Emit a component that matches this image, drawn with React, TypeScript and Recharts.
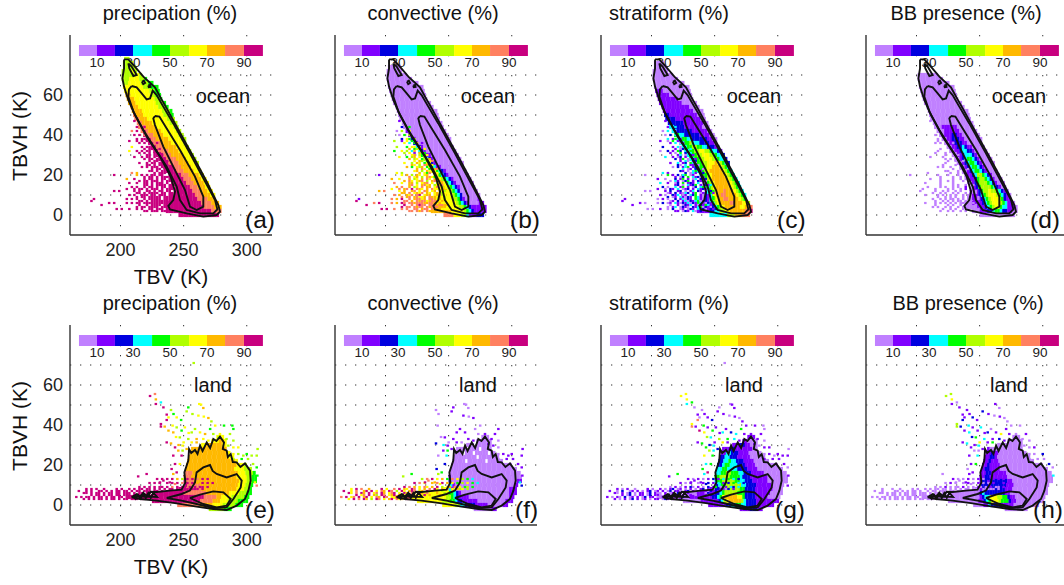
import React from "react";
import { ScatterChart, Scatter, XAxis, YAxis, CartesianGrid, ReferenceArea } from "recharts";

const palette = ["#c080ff","#8000ff","#0000e0","#00ffff","#00ff00","#b0ff00","#ffff00","#ffb900","#ff8060","#c8007f"];
const barEdges = [167.1,181.4,195.6,209.9,225,239.2,254.3,268.5,282.8,297.8,312.8];
const barLabels = ["10","30","50","70","90"];
const titles = ["precipation (%)","convective (%)","stratiform (%)","BB presence (%)"];
const letters = [["(a)","(b)","(c)","(d)"],["(e)","(f)","(g)","(h)"]];
const xTicks = [200,250,300];
const yTicks = [0,20,40,60];
const gridX = [200,250,300];
const gridY = [0,10,20,30,40,50,60,70];

const oceanY = [78,76,74,72,70,68,66,64,62,60,58,56,54,52,50,48,46,44,42,40,38,36,34,32,30,28,26,24,22,20,18,16,14,12,10,8,6,4,2,0];
const oceanL = [203,202,202,201,201,201,202,202,203,204,205,206,208,209,210,211,213,214,216,218,220,222,224,226,228,230,232,234,236,238,240,242,243,243,243,241,238,236,236,246];
const oceanR = [207,209,211,213,217,221,225,229,230,231,233,235,238,240,241,242,244,246,247,249,251,252,254,256,258,259,261,262,264,266,267,269,270,272,274,275,277,279,280,278];

const oceanA = [[5],[5],[5],[5,208,6,211,5],[5,210,6,214,5],[5,206,6,214,5,218,4],[5,206,6,216,5,222,4],[6,218,5,224,4],[6,222,5,226,4],[7,208,6,224,5,228,4],
[7,210,6,226,5,231,4],[7,211,6,228,5,233,4],[7,213,6,230,5,236,4],[7,216,6,232,5,238,4],[8,212,7,218,6,234,5,239,4],[8,214,7,221,6,237,5],[8,217,7,225,6,239,5],[8,219,7,228,6,241,5],[8,222,7,231,6,243,5],[9,219,8,225,7,234,6,246,5],
[9,222,8,228,7,237,6,248,5],[9,224,8,231,7,240,6,250,5],[9,227,8,234,7,243,6,252,5],[9,230,8,237,7,246,6,254,5],[9,233,8,240,7,249,6,256,5],[9,236,8,243,7,251,6,258,5],[9,238,8,245,7,253,6,260,5],[9,241,8,248,7,256,6],[9,244,8,250,7,258,6],[9,247,8,253,7,261,6],
[9,250,8,255,7,263,6],[9,252,8,258,7,265,6],[9,254,8,260,7,267,6],[9,256,8,263,7,269,6],[9,258,8,265,7,271,6],[9,260,8,268,7,274,6],[9,263,8,271,7],[9,266,8,274,7],[9,272,8],[9]];

const oceanB = [[],[],[0],[0],[0],[0],[0],[0],[0],[0],[0],[0],[0],[0],[0],[0],[0],[0],[1,217,0],[1,220,0],
[2,221,1,223,0],[2,224,1,226,0],[3,226,2,228,1,230,0],[3,228,2,230,1,232,0],[4,230,2,232,1,235,0],[5,232,3,234,2,236,1,238,0],[6,234,3,236,2,238,1,240,0],[5,236,4,238,3,240,1,243,0],[6,238,4,241,3,243,2,245,1,247,0],[6,241,4,244,3,246,2,248,1,250,0],
[6,243,5,246,4,248,3,250,2,252,1,254,0],[7,245,6,247,4,250,3,252,2,254,1,256,0],[7,247,6,249,5,251,4,253,3,254,2,256,1,258,0],[7,248,6,251,5,253,4,255,3,256,2,258,1,259,0],[7,248,6,252,5,254,4,256,3,258,2,260,1,261,0],[7,246,6,253,5,256,4,258,3,259,2,261,1,263,0,272,1],[7,244,6,255,5,258,4,260,3,261,2,263,1,266,0,274,1],[7,246,6,258,5,261,4,263,3,265,2,267,1],[7,252,6,262,5,264,4,266,3,268,2,270,1],[8,254,6,260,5,264,3,266,1,272,2]];

const oceanC = [[],[0],[0],[0],[0],[0],[0],[0],[1,209,0],[1,214,0],
[1,220,0],[1,224,0],[1,229,0],[1,233,0],[2,214,1,236,0],[2,218,1,239,0],[2,224,1,240,0],[3,217,2,226,1,240,0],[3,220,2,232,1,243,0],[4,222,3,226,2,238,1,245,0],
[3,224,4,228,3,232,2,243,1,248,0],[3,226,4,230,5,232,3,238,2,246,1,250,0],[3,228,4,232,5,236,4,240,3,244,2,249,1,252,0],[3,230,4,234,5,238,6,241,5,245,4,248,3,251,2,254,1],[3,232,4,236,5,240,6,246,5,249,4,252,3,255,2,257,1],[3,234,4,238,5,242,6,248,5,251,4,254,3,257,2],[3,236,4,240,5,243,6,249,7,252,6,254,5,256,4,258,3,260,2],[3,238,4,241,5,244,6,247,7,254,6,256,5,258,4,260,3,262,2],[3,239,4,242,5,244,6,246,7,256,6,258,5,260,4,262,3,264,2],[3,240,4,243,5,245,6,247,7,257,6,259,5,261,4,263,3,265,2],
[3,241,4,244,5,246,6,248,7,259,6,261,5,263,4,265,3,267,2],[3,242,4,245,5,247,6,249,7,261,6,263,5,265,4,267,3,269,2],[3,243,4,246,5,248,6,250,7,262,6,265,5,267,4,269,3,271,2],[3,244,4,246,5,248,6,250,7,256,8,258,7,264,6,267,5,269,4,271,3,273,2],[3,244,4,246,5,248,6,250,7,255,8,259,7,266,6,269,5,271,4,273,3],[2,244,3,246,4,248,5,250,6,252,7,256,8,260,7,268,6,271,5,273,4,275,3],[1,240,2,244,3,247,4,250,5,252,6,254,7,262,8,265,7,272,6,275,5,277,8],[1,246,2,249,3,251,4,253,5,255,6,257,7,270,6,274,7,277,8],[1,246,2,250,3,254,5,258,6,262,7,274,8,278,9],[3,260,5,265,7,272,8,277,9]];

const oceanD = [[],[],[],[],[0],[0],[0],[0],[0],[0],
[0],[0],[0],[0],[0],[0],[0],[0,220,1,232,0],[0,221,1,234,0],[0,222,1,227,2,232,1,236,0],
[0,224,1,228,2,234,1,238,0],[0,226,1,229,2,236,1,240,0],[0,228,1,231,2,235,3,237,2,240,1,243,0],[0,230,1,233,2,236,3,240,2,243,1,246,0],[0,232,1,235,2,237,3,243,2,245,1,248,0],[0,233,1,236,2,238,3,240,4,243,3,246,2,248,1,250,0],[0,235,1,238,2,240,3,242,4,245,3,248,2,250,1,252,0],[0,237,1,240,2,242,3,244,4,247,3,250,2,252,1,254,0],[0,239,1,242,2,244,3,246,4,250,3,252,2,254,1,256,0],[0,240,1,243,2,245,3,247,5,252,4,254,3,255,2,257,1,259,0],
[0,242,1,245,2,247,4,249,5,254,4,256,3,258,2,259,1,261,0],[0,243,1,246,2,248,4,250,5,256,4,258,3,260,2,262,1,264,0],[0,244,1,247,2,249,4,251,5,258,4,261,3,263,2,265,1,267,0],[0,244,1,248,2,250,3,251,4,253,5,257,6,259,5,262,4,264,3,266,2,268,1,270,0],[0,244,1,248,2,251,3,252,4,254,5,257,6,262,5,264,4,266,3,268,2,270,1,272,0],[0,244,1,250,2,252,3,254,4,256,5,258,6,264,5,266,4,268,3,269,2,271,1,274,0],[0,244,1,252,2,254,3,256,4,258,5,260,6,266,5,267,4,269,3,271,2,272,1,276,0],[-1,240,0,248,1,254,2,256,3,258,4,260,5,262,6,266,4,268,3,271,2,272,1,277,0],[-1,243,0,250,1,256,2,260,3,262,4,265,3,268,2,272,1,276,0],[-1,250,0]];

const landY = [34,32,30,28,26,24,22,20,18,16,14,12,10,8,6,4,2,0,-2];
const landL = [276,272,264,256,255,254,253,252,252,251,250,250,251,246,228,206,225,245,270];
const landR = [281,283,283,284,287,289,292,300,304,306,307,307,305,304,303,302,300,296,288];

const landA = [[6],[6,278,7,281,6],[6,268,7,281,6],[7,283,6],[7,284,6],[7,286,6],[7,290,6],[7,291,6,298,5],[7,290,6,298,5],[8,256,7,292,6,299,5,304,4],[8,256,7,292,6,300,5,304,4],[9,252,8,258,7,293,6,300,5,304,4],[9,253,8,262,7,293,6,299,5,303,4],[9,251,8,264,7,292,6,298,5,302,4],[9,250,8,268,7,286,6,294,5,300,4],[9,266,8,276,7,280,6,288,5,298,4],[9,262,8,272,7,278,6,284,5,292,4],[8,262,7,272,6,280,5,290,4],[5,282,4]];
const landB = [[0],[0],[0,270,-1,272,0],[0,264,-1,266,0,274,-1,276,0],[0,260,-1,262,0,268,-1,270,0,280,-1,282,0],[0,272,-1,274,0],[0,262,-1,264,0,278,-1,280,0],[0],[0],[0],[1,252,0],[2,252,0,304,1],[3,252,1,254,0,302,1,305,2],[6,248,3,252,1,255,0,298,1],[6,246,5,250,4,253,3,255,2,257,1,259,0,298,1],[6,248,5,252,4,254,3,256,2,258,1,266,0,298,1],[6,244,5,250,4,254,3,256,2,260,1,272,0,294,1],[6,254,5,258,3,262,2,270,1,280,0,292,1],[0,284,1]];
const landC = [[1],[1,276,0],[1,270,2,274,1,278,0],[1,262,2,266,1,280,0],[1,258,3,262,2,268,1,276,0],[2,258,3,262,2,268,1,278,0],[2,256,3,260,4,262,3,266,2,272,1,280,0],[2,255,3,258,4,262,3,268,2,274,1,282,0],[3,255,4,260,3,268,2,276,1,284,0],[3,254,4,258,5,262,4,268,3,272,2,278,1,288,0],[4,254,5,262,4,270,3,272,2,278,1,292,0],[3,252,4,256,5,266,4,270,3,273,2,280,1,292,0],[2,252,3,255,4,258,5,270,3,274,2,282,1,294,0],[1,250,2,254,4,258,5,270,4,274,2,282,1,296,0],[0,236,1,250,2,253,3,256,4,258,5,268,4,274,2,282,1,294,0],[0,230,1,248,2,251,3,254,4,256,6,258,7,268,6,271,4,274,2,282,1,292,0],[0,238,1,252,2,254,3,256,5,258,6,260,7,270,5,273,3,275,2,282,1],[1,258,2,262,3,266,4,270,3,274,2,282,1],[1,278,2,284,1]];
const landD = [[0],[0],[0],[1,258,0],[1,259,2,261,1,264,0],[1,258,2,261,1,264,0],[1,256,2,259,1,264,0],[1,255,2,258,1,266,0],[1,254,2,257,1,266,0],[1,254,2,258,1,270,0],[1,253,2,258,1,272,0],[1,252,2,256,1,258,2,272,1,276,0],[1,251,2,256,1,258,2,270,1,276,0],[0,248,1,252,2,270,1,276,0],[0,246,1,250,2,252,3,254,2,270,1,274,0],[0,250,1,252,2,254,3,257,6,264,5,268,4,272,2,274,1,278,0],[0,248,1,252,2,254,3,256,4,258,6,264,5,266,4,272,2,274,1,278,0],[0,252,1,256,3,258,2,266,1,276,0],[0]];

// y, first x, then one digit string per panel (bins 2 K wide, blank = no cell)
const oceanSpecks: [number, number, string, string, string, string][] = [
[47,210,"9","1","1","0"],
[44,212,"9  9","2  4","1  3","    "],
[42,208,"8 9  9","0 5  6","0 3  1","      "],
[40,210,"9 9 8","0 4 5","0 2 3","  0  "],
[38,212,"9 99 9","2 64 5","3 14 1","  0  "],
[37,206,"9  9 9 99","5  1 6 43","1  0 4 11","     0  "],
[36,214,"9 9 99 9","6 3 47 1","1 3 01 4","0 0    0"],
[34,208,"6   9 99 9","5   4 66 5","2   1 30 3","        0 "],
[33,218,"9 999 9","7 456 6","1 024 3","0   0  "],
[32,206,"6  9 9 99","4  6 5 37","0  2 1 42","     0   "],
[31,214,"9 9 9 9 9","5 6 1 7 4","1 0 4 2 3","0   0   0"],
[30,220,"99 9 99","67 5 46","13 0 21"," 0    0"],
[29,210,"9  9 99 9 9","6  4 57 6 5","3  1 02 1 4","0    0    0"],
[28,218,"9 99 9 99","7 56 4 67","2 14 0 21","  0 0    "],
[27,222,"9 99 999","6 75 468","1 30 124"," 0  0  0"],
[26,214,"9  9 99 9 9","6  5 76 4 6","1  3 12 4 0","    0    0"],
[25,220,"99 9 9999","76 5 8746","20 3 1140","0    0 0 "],
[24,216,"9 9 999 99","7 4 657 46","0 2 134 12","0 0  0   0"],
[23,224,"9 99 9999","7 86 4678","3 01 2140","  0  0  0"],
[22,222,"99 9 99 9","67 5 76 6","21 0 34 1","00   0   "],
[21,208,"8 7      9 999 99","6 5      7 648 76","3 1      2 031 42","0        0  0 0  "],
[20,194,"9        7 9 9 99 99","1        6 7 5 76 67","0        4 1 2 34 01","0          0   0   0 "],
[19,218,"9 99 9 99999","8 67 5 78646","1 02 4 31201","0    0  0 0 "],
[18,204,"7  9   9 99 9 99 999","7  6   7 56 7 86 766","1  0   2 14 1 03 212","   0   0    0  0 0  "],
[17,214,"9 99 999 9 9999","7 86 678 5 7867","0 31 024 1 2130","  0  0 0   0 0 "],
[16,206,"9  9  99 9 999 9 99","8  6  77 5 678 6 57","3  1  02 4 121 3 01","0     0    0     0 "],
[15,218,"99 9 9999 99999","78 6 7867 56786","12 0 3124 10213","0    0 0  0  0 "],
[14,208,"9 9  9 99 9 99 99 9","7 8  7 56 8 77 68 5","2 0  3 14 1 02 34 3","0    0 0  0 0  1   "],
[13,204,"9  9 99 9 999 9 9999","6  8 78 9 876 7 8666","1  0 21 3 012 1 3121","0    0    0 0  0 1  "],
[12,194,"9 9     9 9  99 9 99 99 9999","7 8     6 7  78 6 87 67 7656","0 0     1 2  12 0 13 21 0324","    0     0  0 0  0 0   1 0 "],
[11,212,"99 9 9999 99 999999","77 8 6768 76 676566","01 2 1032 14 012341","0  0 0  0 0  0 1 0 "],
[10,206,"9 9  999 99 999 99999","8 7  768 89 677 67856","1 0  213 01 324 10213","0    0 0  0 0  0 0 1 "],
[9,212,"9 99 99999 99999999","8 78 78667 87767656","2 01 31021 43102134","  0  0 0 0  0 0 1 0"],
[8,204,"9 9 9  9 99999 99999999","8 7 9  8 78867 88767656","0 1 0  2 13021 43102134","    0  0 0 00 0 0 0 1 0"],
[7,214,"99 9 999999999999","88 7 878867887676","01 2 130213401213","0  0 0 0 00 0 0 1"],
[6,190,"9 9    9 9 99 9999999999999999","8 9    8 7 98 8878887788767666","1 0    0 2 01 3102130214310213","        0   0 0 0 0 0 00 0 0 1"],
[5,184,"9              9  9 9999 99999999","9              9  8 8988 88878877","1              0  1 0213 10214312","               0    0 0  0 0 0 0 "],
[4,212,"9 99 9999 999999999","9 88 8788 878887776","0 13 0210 213402102","0 0  0 0  0 00 0 0 "],
[3,196,"9 9  9  9 9  99 999 99999999","9 9  8  8 8  88 788 87776666","0 0  1  0 2  01 021 31201212","            0  0 0  0 0 0 0 "],
[2,218,"99 999 9999","88 878 8777","11 021 3012","0  0 0  0 0"],
[8,178,"9","1","1"," "],
[7,176,"9","9","1"," "],
];

const landSpecks: [number, number, string, string, string, string][] = [
[13,228,"9 9 9 9 7 5 9 9 8 9 9","5 8 9 6 7 4 8 6 5 4 3","1 0 1 0 1 2 1 3 4 3 2","1 0 0 1 0 1 0 2 1 1 1"],
[11,222,"9 9 9  9 9 9 8 9 9 7 9 9 9","9 8 6  7 8 9 7 6 4 5 6 4 3","1 0 1  0 1 2 1 3 1 2 4 3 2","0 1 0  0 1 0 1 0 0 1 2 1 1"],
[9,214,"9 9 9 9 99 9 8 9 99 9 9 99 9","9 8 7 6 86 7 9 5 67 8 6 45 4","0 1 0 1 20 1 0 2 14 0 1 32 3","0 0 1 0 00 1 0 0 10 0 1 00 1"],
[8,172,"9 9 9  9    9 9  9 9 99 99 9 9 9 99 9 9 99999 9","6 9 8  7    9 6  8 9 76 98 6 7 8 96 7 8 66756 5","1 0 1  0    1 0  1 0 12 01 0 1 0 12 1 0 21102 1","0   0  0    0 0  0 0 00 00 0 0 0 00 0 0 00000 0"],
[7,166,"9  9 9  99 9 9 99 99 9 99 999 99 9 9 99999 9","9  6 8  79 9 6 87 98 5 96 798 67 9 8 76566 6","1  0 2  01 1 0 12 01 1 02 110 12 1 0 11021 1","0  0    00 0 0 00 0  0 00 000 00 0 0 00000 0"],
[6,170,"99 9 99 9 99 99 999 9 99 99 99 9 9 99999","96 8 97 9 68 97 689 6 97 86 97 8 6 76656","10 1 02 0 11 02 100 1 01 21 01 0 1 10211","00 0 00 0 00 00 000 0 00 00 00 0 0 00000"],
[5,176,"9 99 9 99 99 999 9 99 9 99 9 9 9 999","9 68 9 75 98 679 8 68 9 76 9 7 6 766","1 02 0 11 02 110 1 01 2 10 1 0 1 102","0 00 0 00 00 000 0 00 0 00 0 0 0 000"],
[4,164,"9 9 99 9 99 9 99 99 9 99 999 99","8 9 68 9 79 6 87 98 6 97 589 67","1 0 10 2 01 1 02 11 0 12 101 02","0 0 00 0 00 0 00 00 0 00 000 00"],
[3,170,"9 9 9 99 9 99 9 99 999 99 9","6 9 8 97 5 98 6 79 867 98 6","1 0 1 02 1 01 0 11 021 10 1","0 0 0 00 0 00 0 00 000 00 0"],
];

// x, y, then the class in panels e, f, g, h (-1 = no cell there)
const landCloud = [
[258,71,5,-1,0,-1],[223.4,54.5,9,-1,6,5],[227.3,55.5,8,-1,6,5],[228,52.8,7,-1,6,6],[232,51.3,3,-1,4,0],[228,50.5,9,-1,3,1],[234,48.8,9,-1,0,1],
[236.6,45.2,9,-1,1,1],[240,47.5,5,0,0,1],[236.6,42.5,9,-1,8,2],[232,40.5,9,-1,6,5],[232,39.2,9,-1,8,5],[235,39.2,7,-1,1,2],[238,43.8,6,-1,0,1],
[242,45.5,4,0,1,1],[244.5,43.8,6,-1,1,2],[248,42.5,4,-1,2,1],[252.4,46.8,5,1,1,2],[253.7,48.8,4,1,0,-1],[257,45.5,5,-1,1,1],[262.4,50.5,6,0,0,1],
[263.8,50.2,6,0,1,-1],[265.6,48.5,7,0,1,0],[261.7,44.7,6,1,0,0],[266,44.2,6,0,1,1],[269.6,43.5,7,1,0,0],[272,41.8,5,-1,1,0],[275,39.7,6,0,1,0],
[282,39.7,4,-1,1,0],[288.6,39.7,4,-1,0,-1],[289.4,38,4,1,0,-1],[286.7,35.5,5,1,1,1],[241.3,39.7,6,0,4,3],[244.5,38.8,5,-1,1,1],[248.4,37.2,4,-1,4,1],
[251,38.8,6,-1,1,3],[256.4,36.3,5,1,3,2],[263,36.3,6,1,2,1],[267,35.5,7,-1,3,6],[271,38,4,0,4,1],[238,37.2,7,-1,9,1],[241.8,36.3,7,-1,6,3],
[236.6,31.3,9,-1,1,1],[240,30.8,7,2,4,3],[247,33.8,5,1,3,4],[250,31.3,6,0,1,6],[253.7,33,5,1,5,3],[260.3,33,7,-1,4,1],[265.6,33,6,1,3,2],
[273.5,35.5,5,0,1,1],[278.8,35.5,6,1,1,0],[284,33,5,1,1,0],[289.4,32.2,5,0,0,0],[293.3,28.8,6,-1,1,1],[300,25.5,4,1,1,2],[307.9,24.7,5,1,1,-1],
[308.6,28,5,1,0,-1],[296,23,4,1,1,0],[305,20.5,5,1,1,2],[307.9,18.8,4,1,0,0],[308.4,14.7,4,1,1,3],[306.5,11.3,6,3,0,-1],[307.9,9.7,8,2,1,-1],
[241.8,24.7,9,0,6,1],[243.2,28.8,9,-1,4,1],[245.8,27.2,7,1,5,0],[248.4,24.7,9,3,4,3],[247,20.5,6,2,4,4],[243.2,20.5,9,-1,3,1],[240.5,18,9,2,4,0],
[244.5,16.3,9,4,9,1],[241.8,15.5,7,5,3,1],[220.7,15.5,9,4,4,0],[214,14.3,9,5,1,-1],[231.3,11.3,9,9,1,0],[234,12.2,9,8,1,0],[239,11.3,9,7,1,1],
[243.2,10.5,8,6,2,0],[249.2,29.7,6,1,3,3],[252.4,28,7,1,2,1],[249.2,27.2,5,4,3,0],[256.4,31.3,6,1,6,1],[260.3,31.3,7,0,1,4],[269.6,32.2,6,1,1,1],
[277.5,33.8,5,0,1,0],[281.5,30.5,6,1,1,0],[285.4,29.7,5,1,0,0],[289.4,28.8,6,0,1,0],[289.4,25.5,6,0,0,0],[293.3,25.5,5,1,1,0],[297.3,24.7,5,1,0,-1],
[289.4,23,5,0,1,0],[301,23,5,1,1,0],[303.9,24.7,5,-1,1,-1],[254,36,6,-1,1,1],[259,38,5,1,1,0],[246,30,7,3,2,1],[244,34,6,0,5,2]
];

const cOceanOuter = [[202.8,77.8],[206.2,77.8],[210.2,75],[218.1,69.2],[227.3,63.8],[231.3,59.2],[236.6,53.3],[244.5,44.2],[257.7,29.2],[268.3,16.7],[277.5,5],[278.8,1.7],[276.2,0],[265.6,-0.8],[252.4,0.8],[239.2,2.8],[237.9,4.5],[241.8,7.5],[243.2,11.7],[239.7,19.2],[231.3,29.2],[220.7,39.2],[211.5,50],[206.2,57.5],[202.8,64.2],[201.5,68.3],[202.8,73.3]];
const cOceanMid = [[208.8,64.5],[212.8,63.8],[216.8,60.8],[220.7,57.8],[223.4,58.3],[225.5,62.2],[228.6,60],[233.9,54.2],[241.8,45.8],[255,30.8],[265.6,18.3],[274.9,7.5],[276.7,2.8],[273.5,0.8],[263,0.8],[252.4,2.5],[247.1,7.5],[244.5,14.2],[236.6,24.2],[227.3,33.3],[218.1,42.5],[210.2,51.7],[206.2,59.2],[206.7,62.8]];
const cOceanInner = [[227.3,49.5],[230.8,49.2],[236.6,43.3],[247.1,32.5],[259,19.2],[265.6,9.2],[265.6,4.2],[260.3,2.5],[255,4.2],[251.1,12.5],[241.8,24.2],[233.9,34.2],[227.3,45],[226,48.3]];
const cOceanSmall = [[206.2,75.8],[208.8,74.2],[212.8,70],[210.2,69.5],[207,73.3]];
const cOceanBlobA = [[217,66.6],[218.5,67.2],[219.5,66],[218,65.4]];
const cOceanBlobB = [[222,64.8],[223.5,65],[223.8,64],[222.4,63.9]];
const cLandOuter = [[208.8,3.8],[213,5.5],[215,4],[218.1,6],[221,4.5],[224,6.6],[228.6,6.5],[239.2,7.2],[248.4,7.7],[251.4,11.3],[250.6,16.3],[253.7,22.2],[254.3,28],[256,26],[259,27.5],[261,25.5],[263,29.7],[265,27],[268.3,31.3],[271,28.5],[273.5,33],[276,32],[278.8,34.2],[282,31.3],[281,28],[284.1,27.2],[285,24],[287.3,25.5],[289,21.5],[292,21.3],[295,19],[298.6,20.8],[302.6,17.2],[303.1,12.2],[301.3,7.2],[298.6,3],[292,-0.3],[284.1,-2.5],[273.5,-2],[260.3,-0.8],[244.5,0.8],[228.6,2.2],[215.4,3]];
const cLandMid = [[236.6,3.5],[248.4,5.5],[255,7.2],[259,11.3],[260.3,16.3],[265.6,18.8],[270.9,20],[273,17],[276.2,15.5],[284.1,13.8],[292,15.5],[296,12.2],[295.2,8.8],[289.4,3],[284.1,-1.2],[273.5,-1.5],[260.3,0.5],[248.4,2.2]];
const cLandInner = [[255,3.5],[263,5.2],[273.5,6.8],[281.5,6.3],[287.3,3],[284.1,-0.3],[276.2,-1.2],[265.6,0.5]];
const cLandTail = [[210,4.5],[212,3],[214,5],[216,3.2],[218,6],[220,3.4],[222,6],[224,3.6],[226,6.2],[229,4]];

const oceanContours = [cOceanOuter,cOceanMid,cOceanInner,cOceanSmall,cOceanBlobA,cOceanBlobB];
const landContours = [cLandOuter,cLandMid,cLandInner,cLandTail];

const font = "'Liberation Sans', Arial, sans-serif";
const plotLefts = [70,335,601,866];
const titleCenters = [[170,433,669,966],[170,433,669,968]];
const letterLefts = [[245,510,777,1030],[245,515,775,1033]];

function bodyCells(ys: number[], ls: number[], rs: number[], rows: number[][]) {
  const out: { x: number; y: number; v: number }[] = [];
  ys.forEach((y, i) => {
    const r = rows[i] || [];
    if (!r.length) return;
    for (let b = ls[i]; b < rs[i]; b += 2) {
      let k = 0;
      while (k + 1 < r.length && b >= r[k + 1]) k += 2;
      if (r[k] >= 0) out.push({ x: b + 1, y, v: r[k] });
    }
  });
  return out;
}
function speckCells(table: [number, number, string, string, string, string][], p: number) {
  const out: { x: number; y: number; v: number }[] = [];
  table.forEach((row) => {
    const s = row[2 + p] as string;
    for (let i = 0; i < s.length; i++) {
      if (s[i] !== " ") out.push({ x: (row[1] as number) + 2 * i + 1, y: row[0] as number, v: Number(s[i]) });
    }
  });
  return out;
}
const BodyCell = (q: any) => <rect x={q.cx - 1.4} y={q.cy - 2.1} width={2.8} height={4.2} fill={palette[q.payload.v]} />;
const SpeckCell = (q: any) => <rect x={q.cx - 1.25} y={q.cy - 1.1} width={2.5} height={2.2} fill={palette[q.payload.v]} />;
const NoMark = () => <g />;
const blankTick = () => "";

function Panel({ row, col }: { row: number; col: number }) {
  const left = plotLefts[col];
  const top = row * 290;
  const ocean = row === 0;
  const body = ocean
    ? bodyCells(oceanY, oceanL, oceanR, [oceanA, oceanB, oceanC, oceanD][col])
    : bodyCells(landY, landL, landR, [landA, landB, landC, landD][col]);
  const specks = speckCells(ocean ? oceanSpecks : landSpecks, col);
  if (!ocean) landCloud.forEach((c) => { if (c[2 + col] >= 0) specks.push({ x: c[0], y: c[1], v: c[2 + col] }); });
  const contours = ocean ? oceanContours : landContours;
  const tickStyle = { fontSize: 18, fill: "#222", fontFamily: font };
  return (
    <>
      {barLabels.map((t, i) => (
        <div key={t} style={{ position: "absolute", left: left + [27, 63, 100, 137, 174][i] - 20, top: top + 54, width: 40, textAlign: "center", fontSize: 13.5, lineHeight: "18px", color: "#222" }}>{t}</div>
      ))}
      <div style={{ position: "absolute", left: left - 70, top }}>
        <ScatterChart width={272} height={290} margin={{ top: 35, right: 0, bottom: 0, left: 0 }}>
          <CartesianGrid horizontalValues={gridY} verticalValues={gridX} stroke="#333" strokeWidth={1} strokeDasharray="1.3 8.7" />
          <XAxis type="number" dataKey="x" domain={[160, 320]} ticks={xTicks} interval={0} height={55} axisLine={{ stroke: "#333", strokeWidth: 1.4 }} tickLine={false} tickSize={0} tickMargin={8} tick={tickStyle} tickFormatter={col === 0 ? undefined : blankTick} allowDataOverflow />
          <YAxis type="number" dataKey="y" domain={[-10, 90]} ticks={yTicks} interval={0} width={70} axisLine={{ stroke: "#333", strokeWidth: 1.4 }} tickLine={false} tickSize={0} tickMargin={7} tick={tickStyle} tickFormatter={col === 0 ? undefined : blankTick} allowDataOverflow />
          {palette.map((c, i) => (
            <ReferenceArea key={c} x1={barEdges[i]} x2={barEdges[i + 1]} y1={79.5} y2={85} fill={c} fillOpacity={1} stroke="none" />
          ))}
          <Scatter data={body} shape={BodyCell} isAnimationActive={false} />
          <Scatter data={specks} shape={SpeckCell} isAnimationActive={false} />
          {contours.map((c, i) => (
            <Scatter key={i} data={[...c, c[0]].map(([x, y]) => ({ x, y }))} line={{ stroke: "#111", strokeWidth: 1.9 }} lineJointType="linear" shape={NoMark} isAnimationActive={false} />
          ))}
        </ScatterChart>
      </div>
      <div style={{ position: "absolute", left: titleCenters[row][col] - 100, top: top + 1, width: 200, textAlign: "center", fontSize: 20, lineHeight: "24px", color: "#111" }}>{titles[col]}</div>
      <div style={{ position: "absolute", left: left + (ocean ? 153 : 143) - 40, top: top + (ocean ? 84 : 83), width: 80, textAlign: "center", fontSize: 20, lineHeight: "24px", color: "#111" }}>{ocean ? "ocean" : "land"}</div>
      <div style={{ position: "absolute", left: letterLefts[row][col], top: top + 205, fontSize: 24.5, lineHeight: "30px", color: "#111" }}>{letters[row][col]}</div>
      {col === 0 && (
        <>
          <div style={{ position: "absolute", left: 71, top: top + 264, width: 200, textAlign: "center", fontSize: 21, lineHeight: "26px", color: "#111" }}>TBV (K)</div>
          <div style={{ position: "absolute", left: 20 - 60, top: top + 136 - 13, width: 120, textAlign: "center", fontSize: 21, lineHeight: "26px", color: "#111", transform: "rotate(-90deg)" }}>TBVH (K)</div>
        </>
      )}
    </>
  );
}

export default function App() {
  return (
    <div style={{ position: "absolute", left: 0, top: 0, width: 1064, height: 585, overflow: "hidden", background: "#fff", fontFamily: font }}>
      {[0, 1].map((r) => [0, 1, 2, 3].map((c) => <Panel key={`${r}-${c}`} row={r} col={c} />))}
    </div>
  );
}
